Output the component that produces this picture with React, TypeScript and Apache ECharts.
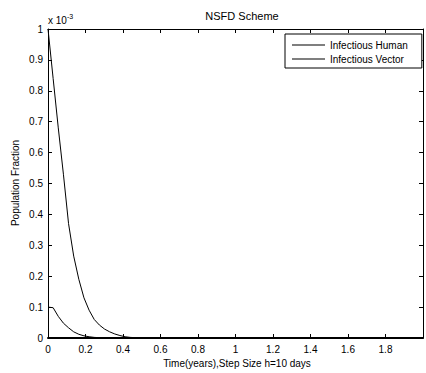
import React, { useEffect, useRef } from "react";
import * as echarts from "echarts";

// Time in years (step h = 10 days), values in units of 1e-3
const times = [0, 0.0274, 0.0548, 0.0822, 0.1096, 0.137, 0.1644, 0.1918, 0.2192, 0.2466, 0.274, 0.3014, 0.3288, 0.3562, 0.3836, 0.411, 0.4384, 0.4658, 0.4932, 0.5205, 2.0];
const humanValues = [1.0, 0.84, 0.68, 0.53, 0.37, 0.265, 0.19, 0.13, 0.09, 0.06, 0.042, 0.029, 0.02, 0.013, 0.008, 0.004, 0.002, 0.001, 0.0005, 0, 0];
const vectorValues = [0.1, 0.098, 0.07, 0.048, 0.033, 0.02, 0.012, 0.007, 0.004, 0.002, 0.001, 0.0005, 0.0002, 0, 0, 0, 0, 0, 0, 0, 0];
const seriesNames = ["Infectious Human", "Infectious Vector"];
const xTicks = [0, 0.2, 0.4, 0.6, 0.8, 1, 1.2, 1.4, 1.6, 1.8];

const FONT = "'Liberation Sans', Arial, sans-serif";

export default function App() {
  const ref = useRef<HTMLDivElement>(null);
  useEffect(() => {
    if (!ref.current) return;
    const chart = echarts.init(ref.current, undefined, { renderer: "svg" });
    const tickCommon = { show: true, inside: true, length: 4, lineStyle: { color: "#000", width: 1 } };
    const lineCommon = { show: true, onZero: false, lineStyle: { color: "#000", width: 1 } };
    chart.setOption({
      animation: false,
      backgroundColor: "#fff",
      grid: { left: 48, top: 29, right: -2, bottom: 35, containLabel: false },
      title: {
        text: "NSFD Scheme",
        left: 237,
        top: 5,
        textAlign: "center",
        textStyle: { fontFamily: FONT, fontSize: 11, fontWeight: "normal", color: "#000" },
      },
      legend: {
        show: true,
        data: seriesNames.map((n) => ({ name: n, icon: "rect" })),
        orient: "vertical",
        left: 285,
        top: 34,
        itemWidth: 33,
        itemHeight: 1,
        itemGap: 4,
        padding: [6, 14, 4, 7],
        borderColor: "#000",
        borderWidth: 1,
        borderRadius: 0,
        backgroundColor: "#fff",
        itemStyle: { color: "#000", borderWidth: 0 },
        lineStyle: { width: 0 },
        textStyle: { fontFamily: FONT, fontSize: 10, color: "#000" },
      },
      xAxis: [
        {
          type: "value",
          min: 0,
          max: 2,
          interval: 0.2,
          position: "bottom",
          axisLine: { show: true, onZero: false, lineStyle: { color: "#000", width: 2 } },
          axisTick: tickCommon,
          splitLine: { show: false },
          axisLabel: {
            margin: 6,
            fontFamily: FONT,
            fontSize: 10,
            color: "#000",
            formatter: (v: number) => {
              const found = xTicks.find((t) => Math.abs(t - v) < 1e-6);
              return found === undefined ? "" : String(found);
            },
          },
        },
        {
          type: "value",
          min: 0,
          max: 2,
          interval: 0.2,
          position: "top",
          axisLine: lineCommon,
          axisTick: tickCommon,
          axisLabel: { show: false },
          splitLine: { show: false },
        },
      ],
      yAxis: [
        {
          type: "value",
          min: 0,
          max: 1,
          interval: 0.1,
          position: "left",
          axisLine: lineCommon,
          axisTick: tickCommon,
          splitLine: { show: false },
          axisLabel: {
            margin: 5,
            fontFamily: FONT,
            fontSize: 10,
            color: "#000",
            formatter: (v: number) => String(Math.round(v * 10) / 10),
          },
        },
        {
          type: "value",
          min: 0,
          max: 1,
          interval: 0.1,
          position: "right",
          axisLine: lineCommon,
          axisTick: tickCommon,
          axisLabel: { show: false },
          splitLine: { show: false },
        },
      ],
      series: [
        {
          name: seriesNames[0],
          type: "line",
          symbol: "none",
          data: times.map((t, i) => [t, humanValues[i]]),
          lineStyle: { color: "#000", width: 1 },
          itemStyle: { color: "#000" },
        },
        {
          name: seriesNames[1],
          type: "line",
          symbol: "none",
          data: times.map((t, i) => [t, vectorValues[i]]),
          lineStyle: { color: "#000", width: 1 },
          itemStyle: { color: "#000" },
        },
      ],
      graphic: [
        {
          type: "text",
          left: 48,
          top: 13,
          style: {
            text: "{a|x 10}{s|-3}",
            rich: {
              a: { fontFamily: FONT, fontSize: 10, fill: "#000", verticalAlign: "bottom", lineHeight: 12 },
              s: { fontFamily: FONT, fontSize: 7, fill: "#000", verticalAlign: "top", lineHeight: 12, padding: [0, 0, 8, 0] },
            },
          },
        },
        {
          type: "text",
          x: 15,
          y: 183,
          rotation: Math.PI / 2,
          style: {
            text: "Population Fraction",
            fontFamily: FONT,
            fontSize: 10,
            fill: "#000",
            align: "center",
            verticalAlign: "middle",
          },
        },
        {
          type: "text",
          x: 237,
          y: 363,
          style: {
            text: "Time(years),Step Size h=10 days",
            fontFamily: FONT,
            fontSize: 10,
            fill: "#000",
            align: "center",
            verticalAlign: "middle",
          },
        },
      ],
    });
    return () => chart.dispose();
  }, []);
  return <div ref={ref} style={{ width: 426, height: 373, position: "absolute", left: 0, top: 0 }} />;
}
